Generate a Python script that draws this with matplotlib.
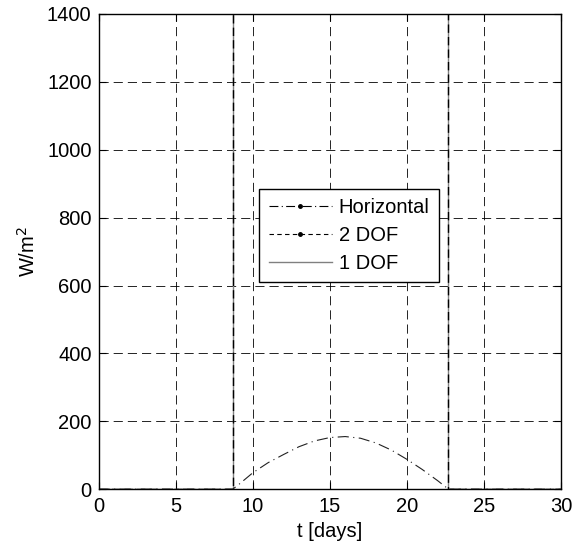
import matplotlib
matplotlib.use("Agg")
import matplotlib.pyplot as plt
from matplotlib.lines import Line2D

plt.rcParams['font.family'] = ['Liberation Sans', 'DejaVu Sans']

# Data
t_horizontal = [0, 8.7, 9, 10, 11, 12, 13, 14, 15, 16, 17, 18, 19, 20, 21, 22, 22.7, 30]
horizontal = [0, 0, 10, 48, 78, 102, 125, 142, 152, 155, 150, 136, 115, 88, 58, 25, 0, 0]
t_dof = [0, 8.7, 8.7, 22.7, 22.7, 30]
dof2 = [0, 0, 1600, 1600, 0, 0]
dof1 = [0, 0, 1600, 1600, 0, 0]
xticks = [0, 5, 10, 15, 20, 25, 30]
yticks = [0, 200, 400, 600, 800, 1000, 1200, 1400]

FS = 14.5

fig = plt.figure(figsize=(5.73, 5.49), dpi=100)
ax = fig.add_axes([0.172, 0.109, 0.807, 0.8655])

ax.plot(t_dof, dof1, color='#808080', lw=1.0, linestyle='-')
ax.plot(t_dof, dof2, color='black', lw=1.0, linestyle=(0, (6, 3)))
ax.plot(t_horizontal, horizontal, color='#222222', lw=0.8, linestyle=(0, (10, 4, 1, 4)))

ax.set_xlim(0, 30)
ax.set_ylim(0, 1400)
ax.set_xticks(xticks)
ax.set_yticks(yticks)
ax.grid(True, color='black', linestyle=(0, (11, 6)), lw=0.6)
ax.tick_params(direction='in', top=True, right=True, length=5, labelsize=FS, width=0.8)
ax.tick_params(axis='x', pad=6)
ax.tick_params(axis='y', pad=5)
for s in ax.spines.values():
    s.set_linewidth(1.0)
ax.set_xlabel('t [days]', fontsize=FS, labelpad=4)
ax.set_ylabel('W/m$^2$', fontsize=FS, labelpad=6)

handles = [
    Line2D([], [], color='black', lw=0.8, linestyle=(0, (8, 3, 1, 3)), marker='.', markevery=[1], markersize=5),
    Line2D([], [], color='black', lw=0.8, linestyle=(0, (4, 3)), marker='.', markevery=[1], markersize=5),
    Line2D([], [], color='#808080', lw=1.0, linestyle='-'),
]
leg = ax.legend(handles, ['Horizontal', '2 DOF', '1 DOF'], loc='upper left',
                bbox_to_anchor=(0.348, 0.632), borderaxespad=0, fancybox=False,
                edgecolor='black', framealpha=1, fontsize=FS, handlelength=3.15,
                handletextpad=0.33, labelspacing=0.45, borderpad=0.45)
leg.get_frame().set_linewidth(1.0)

fig.savefig('out.png', dpi=100)
